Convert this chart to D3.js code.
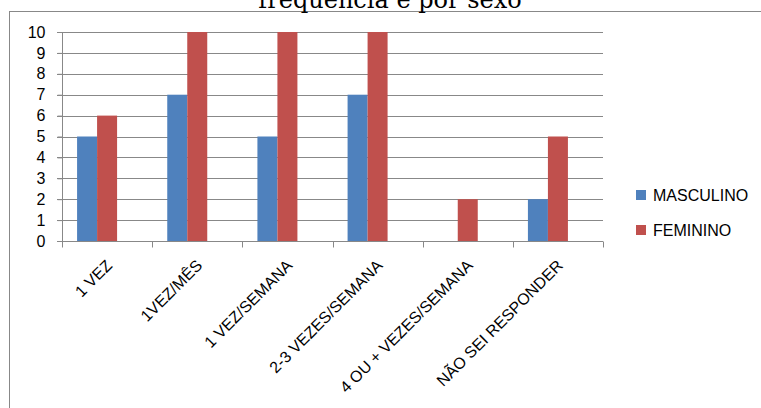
<!DOCTYPE html>
<html><head><meta charset="utf-8">
<script src="https://cdn.jsdelivr.net/npm/d3@7"></script>
<style>body{margin:0;background:#fff}svg{display:block}</style>
</head><body>
<svg id="c" width="761" height="408"></svg>
<script>
const categories = ["1 VEZ","1VEZ/MÊS","1 VEZ/SEMANA","2-3 VEZES/SEMANA","4 OU + VEZES/SEMANA","NÃO SEI RESPONDER"];
const masculino = [5,7,5,7,0,2];
const feminino = [6,10,10,10,2,5];
const seriesNames = ["MASCULINO","FEMININO"];
const seriesColors = ["#4f81bd","#c0504d"];
const yTicks = [0,1,2,3,4,5,6,7,8,9,10];
const titleText = "frequência e por sexo";

const svg = d3.select("#c");
const font = "'Liberation Sans', Arial, sans-serif";
// frame
svg.append("rect").attr("x",9.5).attr("y",11.5).attr("width",800).attr("height",500)
  .attr("fill","none").attr("stroke","#888").attr("stroke-width",1);
// title (cut at top edge as in the reference)
svg.append("text").attr("x",390).attr("y",8).attr("text-anchor","middle")
  .attr("font-family","'DejaVu Serif', 'Liberation Serif', serif").attr("font-size",24).attr("fill","#000").text(titleText);

const x0 = d3.scaleBand().domain(categories).range([62,603]);
const y = d3.scaleLinear().domain([0,10]).range([241,32]);
const data = categories.map((c,i)=>({c, v:[masculino[i],feminino[i]]}));
const barW = 20;
const groupShift = -10;

// gridlines
svg.append("g").selectAll("line").data(yTicks.filter(t=>t>0)).join("line")
  .attr("x1",57).attr("x2",603).attr("y1",d=>Math.round(y(d))+0.5).attr("y2",d=>Math.round(y(d))+0.5)
  .attr("stroke","#888").attr("stroke-width",1);

// bars
const g = svg.append("g");
data.forEach(d=>{
  const cx = x0(d.c)+x0.bandwidth()/2+groupShift;
  d.v.forEach((v,j)=>{
    g.append("rect").attr("x",cx-barW+j*barW).attr("width",barW)
      .attr("y",y(v)).attr("height",y(0)-y(v)).attr("fill",seriesColors[j]);
  });
});

// y axis
const ya = svg.append("g").attr("transform","translate(62.5,0)")
  .call(d3.axisLeft(y).tickValues(yTicks).tickSize(5).tickPadding(12).tickFormat(d3.format("d")));
ya.select(".domain").attr("stroke","#888").attr("d","M0,32V241");
ya.selectAll(".tick line").attr("stroke","#888");
ya.selectAll(".tick text").attr("font-family",font).attr("font-size",16).attr("fill","#000");

// x axis
const xa = svg.append("g").attr("transform","translate(0,241.5)");
xa.append("line").attr("x1",57).attr("x2",603).attr("stroke","#888");
const tickPos = categories.map(c=>x0(c)).concat([x0.range()[1]]);
xa.selectAll(".xt").data(tickPos).join("line").attr("class","xt")
  .attr("x1",d=>Math.round(d)+0.5).attr("x2",d=>Math.round(d)+0.5).attr("y1",0).attr("y2",6).attr("stroke","#888");
xa.selectAll(".xl").data(categories).join("text").attr("class","xl")
  .attr("transform",d=>`translate(${x0(d)+x0.bandwidth()/2+6},${25}) rotate(-45)`)
  .attr("text-anchor","end")
  .attr("font-family",font).attr("font-size",16).attr("fill","#000").text(d=>d);

// legend
const lg = svg.append("g");
seriesNames.forEach((n,i)=>{
  lg.append("rect").attr("x",636).attr("y",190+i*35).attr("width",10).attr("height",10).attr("fill",seriesColors[i]);
  lg.append("text").attr("x",653).attr("y",201+i*35).attr("font-family",font).attr("font-size",16).attr("fill","#000").text(n);
});
</script>
</body></html>
